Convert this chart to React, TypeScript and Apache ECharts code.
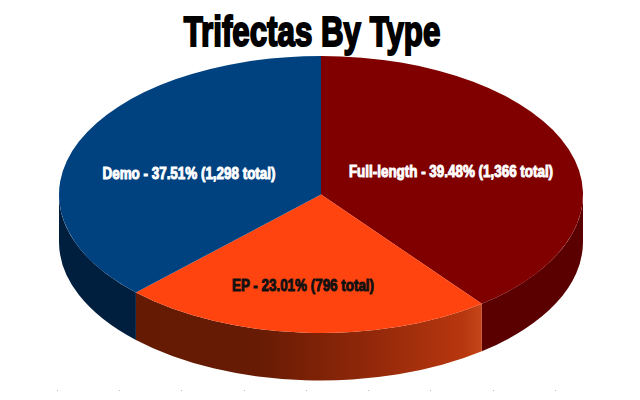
import React, { useEffect, useRef } from "react";
import * as echarts from "echarts";

const titleText = "Trifectas By Type";
const categories = ["Full-length", "EP", "Demo"];
const totals = [1366, 796, 1298];
const percents = ["39.48", "23.01", "37.51"];
const topColors = ["#800000", "#FF4410", "#00417F"];
const labelColors = ["#ffffff", "#111111", "#ffffff"];

const CX = 321, CY = 194.5, RX = 262, RY = 138.5, DEPTH = 47.5;
const labelAnchors = [[451, 171], [303, 285], [189, 173]];
const FONT = '"Liberation Sans", sans-serif';

const pt = (deg: number, dy = 0) => {
  const r = (deg * Math.PI) / 180;
  return [CX + RX * Math.sin(r), CY - RY * Math.cos(r) + dy];
};

const sum = totals.reduce((a, b) => a + b, 0);

const sideFill = (i: number) => {
  if (i === 0) return "#5A0000";
  if (i === 2) return "#001F3F";
  return new echarts.graphic.LinearGradient(0, 0, 1, 0, [
    { offset: 0, color: "#641A03" },
    { offset: 0.35, color: "#671B04" },
    { offset: 0.65, color: "#8E2709" },
    { offset: 0.95, color: "#B8370F" },
    { offset: 1, color: "#C6461A" },
  ]);
};

function renderSlice(params: any, api: any) {
  const i = params.dataIndex;
  const before = totals.slice(0, i).reduce((a, b) => a + b, 0);
  const a0 = (before / sum) * 360;
  const a1 = a0 + (api.value(0) / sum) * 360;
  const [sx, sy] = pt(a0);
  const [ex, ey] = pt(a1);
  const large = a1 - a0 > 180 ? 1 : 0;
  const top = `M${CX} ${CY}L${sx} ${sy}A${RX} ${RY} 0 ${large} 1 ${ex} ${ey}Z`;
  const children: any[] = [];
  const s0 = Math.max(a0, 90), s1 = Math.min(a1, 270);
  if (s1 > s0) {
    const [x0, y0] = pt(s0);
    const [x1, y1] = pt(s1);
    children.push({
      type: "path",
      shape: {
        pathData: `M${x0} ${y0}A${RX} ${RY} 0 0 1 ${x1} ${y1}L${x1} ${y1 + DEPTH}A${RX} ${RY} 0 0 0 ${x0} ${y0 + DEPTH}Z`,
      },
      style: { fill: sideFill(i) },
    });
  }
  children.push({ type: "path", shape: { pathData: top }, style: { fill: topColors[i] } });
  children.push({
    type: "text",
    z2: 10,
    x: labelAnchors[i][0],
    y: labelAnchors[i][1],
    scaleX: 0.79,
    style: {
      text: `${categories[i]} - ${percents[i]}% (${totals[i].toLocaleString("en-US")} total)`,
      x: 0,
      y: 0,
      align: "center",
      verticalAlign: "middle",
      fill: labelColors[i],
      stroke: labelColors[i],
      lineWidth: 1,
      font: `bold 17px ${FONT}`,
    },
  });
  return { type: "group", children };
}

export default function App() {
  const ref = useRef<HTMLDivElement>(null);
  useEffect(() => {
    const chart = echarts.init(ref.current!, null, { renderer: "svg" });
    chart.setOption({
      animation: false,
      backgroundColor: "#ffffff",
      graphic: [
        {
          type: "text",
          x: 312,
          y: 31,
          scaleX: 0.745,
          scaleY: 1,
          style: {
            text: titleText,
            x: 0,
            y: 0,
            align: "center",
            verticalAlign: "middle",
            font: `bold 42px ${FONT}`,
            fill: "#000000",
            stroke: "#000000",
            lineWidth: 2,
          },
        },
      ],
      grid: { left: 57, top: 389, width: 498, height: 1 },
      xAxis: {
        type: "value",
        min: 0,
        max: 8,
        interval: 1,
        axisLine: { show: false },
        splitLine: { show: false },
        axisLabel: { show: false },
        axisTick: { show: true, length: 1, lineStyle: { color: "#bbbbbb", width: 1 } },
      },
      yAxis: { type: "value", show: false },
      series: [
        {
          type: "custom",
          coordinateSystem: "none",
          renderItem: renderSlice,
          data: totals.map((v) => [v]),
          silent: true,
        },
      ],
    });
    return () => chart.dispose();
  }, []);
  return <div ref={ref} style={{ position: "fixed", left: 0, top: 0, width: 640, height: 400 }} />;
}
